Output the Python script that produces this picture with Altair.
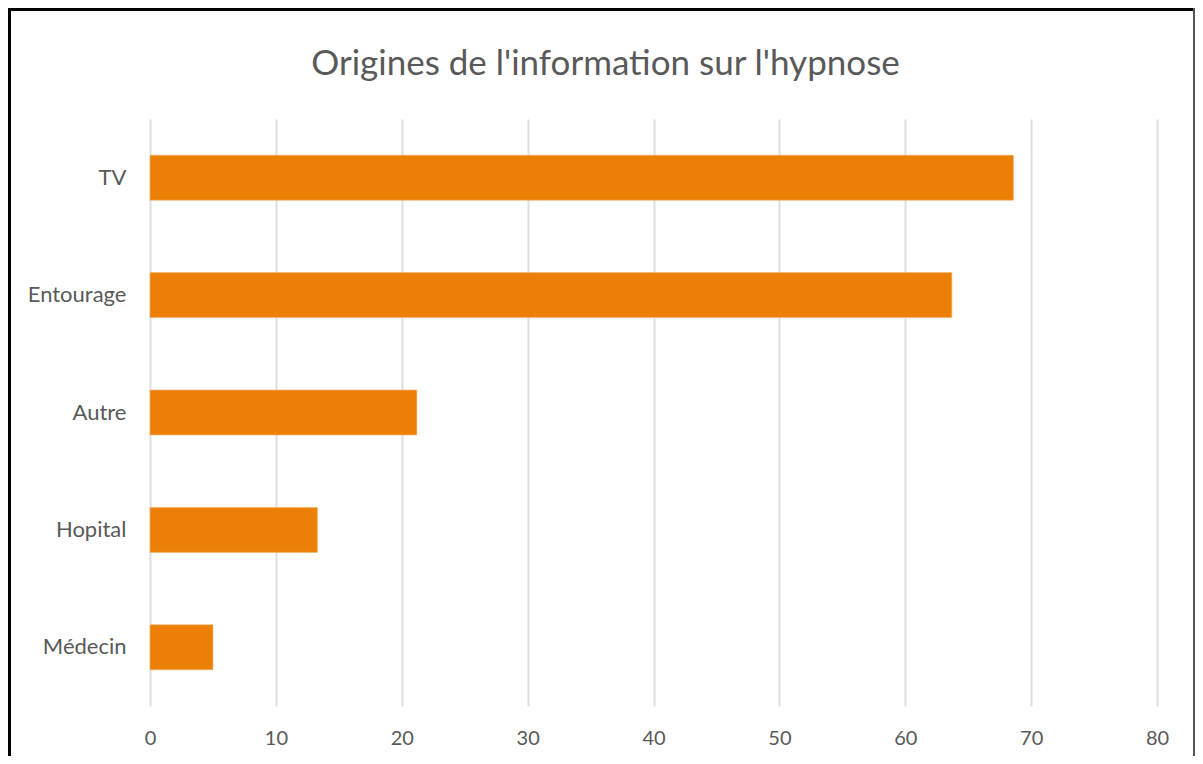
import altair as alt
import pandas as pd

categories = ["TV", "Entourage", "Autre", "Hopital", "Médecin"]
values = [68.6, 63.7, 21.2, 13.3, 5.0]
x_ticks = [0, 10, 20, 30, 40, 50, 60, 70, 80]
title_text = "Origines de l'information sur l'hypnose"

df = pd.DataFrame({"source": categories, "value": values})
title_df = pd.DataFrame({"t": [title_text]})

FONT = "Lato"
GREY = "#595959"

bars = alt.Chart(df).mark_bar(color="#EC8006", stroke="#F3B26A", strokeWidth=0.6).encode(
    x=alt.X("value:Q",
            scale=alt.Scale(domain=[0, 80], nice=False, zero=True),
            axis=alt.Axis(values=x_ticks, title=None, domain=False, ticks=False,
                          grid=True, gridColor="#DEDEDE", gridWidth=2,
                          labelFont=FONT, labelFontSize=20, labelColor=GREY,
                          labelPadding=22, labelFlush=False)),
    y=alt.Y("source:N", sort=categories,
            scale=alt.Scale(paddingInner=0.617, paddingOuter=0.3085),
            axis=alt.Axis(title=None, domain=False, ticks=False, grid=False,
                          labelFont=FONT, labelFontSize=22, labelColor=GREY,
                          labelPadding=24)),
)

title = alt.Chart(title_df).mark_text(
    font=FONT, fontSize=35, color=GREY, align="center", baseline="alphabetic"
).encode(text="t:N", x=alt.value(455.5), y=alt.value(-44))

# decorative frame around the whole figure
frame_left = alt.Chart(df).mark_rule(color="black", strokeWidth=3).encode(
    x=alt.value(-140.5), y=alt.value(-111), y2=alt.value(640))
frame_top = alt.Chart(df).mark_rule(color="black", strokeWidth=3).encode(
    x=alt.value(-142), x2=alt.value(1045), y=alt.value(-109.5))
frame_right = alt.Chart(df).mark_rule(color="#555555", strokeWidth=1.5).encode(
    x=alt.value(1044), y=alt.value(-111), y2=alt.value(640))

chart = alt.layer(bars, title, frame_left, frame_top, frame_right).properties(
    width=1007,
    height=587,
    background="white",
    padding={"left": 142, "top": 111, "right": 38, "bottom": 50},
    autosize=alt.AutoSizeParams(type="none"),
).configure_view(stroke=None)

chart.save("out.html", embed_options={"renderer": "svg", "actions": False})
